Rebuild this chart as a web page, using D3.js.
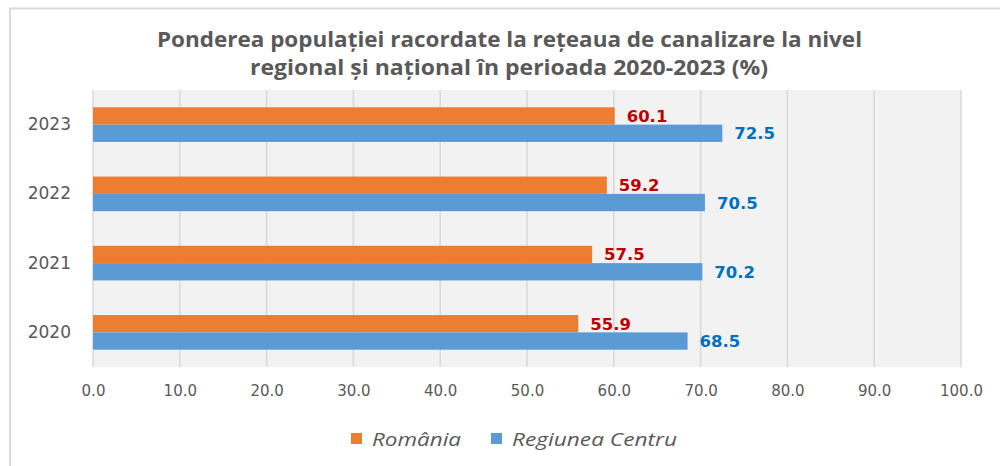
<!DOCTYPE html>
<html>
<head>
<meta charset="utf-8">
<script src="https://cdn.jsdelivr.net/npm/d3@7"></script>
<style>
  body { margin: 0; background: #fff; }
  svg { display: block; }
</style>
</head>
<body>
<div id="chart"></div>
<script>
// Data
const years = ['2023', '2022', '2021', '2020']
const romania = [60.1, 59.2, 57.5, 55.9]
const centru = [72.5, 70.5, 70.2, 68.5]
const xTicks = [0, 10, 20, 30, 40, 50, 60, 70, 80, 90, 100]
const seriesNames = ['România', 'Regiunea Centru']
const titleLines = [
  'Ponderea populației racordate la rețeaua de canalizare la nivel',
  'regional și național în perioada 2020-2023 (%)'
]

const colors = { romania: '#ed7d31', centru: '#5b9bd5' }
const labelColors = { romania: '#c00000', centru: '#0070c0' }

// Dimensions
let dimensions = {
  width: 1000,
  height: 466,
  margin: { top: 90, bottom: 99, left: 93, right: 39 }
}
dimensions.containerWidth = dimensions.width - dimensions.margin.left - dimensions.margin.right
dimensions.containerHeight = dimensions.height - dimensions.margin.top - dimensions.margin.bottom

const svg = d3.select('#chart')
  .append('svg')
  .attr('width', dimensions.width)
  .attr('height', dimensions.height)

// frame
svg.append('path')
  .attr('d', `M10,${dimensions.height} L10,8.5 L${dimensions.width},8.5`)
  .attr('fill', 'none')
  .attr('stroke', '#d9d9d9')
  .attr('stroke-width', 2)

// title
const titleExtents = [[157, 862, 47], [250, 768, 75]]
svg.append('g')
  .selectAll('text')
  .data(titleLines)
  .join('text')
  .attr('x', (d, i) => titleExtents[i][0])
  .attr('y', (d, i) => titleExtents[i][2])
  .attr('textLength', (d, i) => titleExtents[i][1] - titleExtents[i][0])
  .attr('lengthAdjust', 'spacingAndGlyphs')
  .attr('font-family', 'Open Sans, sans-serif')
  .attr('font-weight', 'bold')
  .attr('font-size', 21.5)
  .attr('fill', '#595959')
  .text(d => d)

const container = svg.append('g')
  .attr('transform', `translate(${dimensions.margin.left}, ${dimensions.margin.top})`)

// Scales
const xScale = d3.scaleLinear()
  .domain([0, 100])
  .range([0, dimensions.containerWidth])

const yScale = d3.scaleBand()
  .domain(years)
  .range([0, dimensions.containerHeight])
  .paddingInner(0.5)
  .paddingOuter(0.25)

const bw = yScale.bandwidth() / 2

// plot background
container.append('rect')
  .attr('x', 0)
  .attr('y', 0)
  .attr('width', dimensions.containerWidth)
  .attr('height', dimensions.containerHeight)
  .attr('fill', '#f2f2f2')

// gridlines
container.append('g')
  .selectAll('line')
  .data(xTicks)
  .join('line')
  .attr('x1', d => xScale(d))
  .attr('x2', d => xScale(d))
  .attr('y1', 0)
  .attr('y2', dimensions.containerHeight)
  .attr('stroke', '#d9d9d9')
  .attr('stroke-width', 1.5)

// bars
container.append('g')
  .selectAll('rect')
  .data(years)
  .join('rect')
  .attr('x', 0)
  .attr('y', d => yScale(d))
  .attr('width', (d, i) => xScale(romania[i]))
  .attr('height', bw)
  .attr('fill', colors.romania)

container.append('g')
  .selectAll('rect')
  .data(years)
  .join('rect')
  .attr('x', 0)
  .attr('y', d => yScale(d) + bw)
  .attr('width', (d, i) => xScale(centru[i]))
  .attr('height', bw)
  .attr('fill', colors.centru)

// value labels
const labelStyle = sel => sel
  .attr('font-family', 'DejaVu Sans, Verdana, sans-serif')
  .attr('font-weight', 'bold')
  .attr('font-size', 16.5)

container.append('g')
  .selectAll('text')
  .data(years)
  .join('text')
  .attr('x', (d, i) => xScale(romania[i]) + 12)
  .attr('y', d => yScale(d) + bw / 2 + 6)
  .attr('fill', labelColors.romania)
  .call(labelStyle)
  .text((d, i) => romania[i].toFixed(1))

container.append('g')
  .selectAll('text')
  .data(years)
  .join('text')
  .attr('x', (d, i) => xScale(centru[i]) + 12)
  .attr('y', d => yScale(d) + bw * 1.5 + 6)
  .attr('fill', labelColors.centru)
  .call(labelStyle)
  .text((d, i) => centru[i].toFixed(1))

// Axes
const xAxis = d3.axisBottom(xScale)
  .tickValues(xTicks)
  .tickSize(0)
  .tickPadding(18)
  .tickFormat(d3.format('.1f'))

const xAxisGroup = container.append('g')
  .call(xAxis)
  .attr('transform', `translate(0, ${dimensions.containerHeight})`)
xAxisGroup.select('.domain').remove()
xAxisGroup.selectAll('text')
  .attr('font-family', 'DejaVu Sans, sans-serif')
  .attr('font-size', 15)
  .attr('fill', '#595959')

const yAxis = d3.axisLeft(yScale)
  .tickSize(0)
  .tickPadding(22)

const yAxisGroup = container.append('g')
  .call(yAxis)
yAxisGroup.select('.domain').remove()
yAxisGroup.selectAll('text')
  .attr('font-family', 'DejaVu Sans, sans-serif')
  .attr('font-size', 17)
  .attr('fill', '#595959')

// Legend
const legendItems = [
  { name: seriesNames[0], color: colors.romania, sx: 351, tx: 372, tw: 89 },
  { name: seriesNames[1], color: colors.centru, sx: 491, tx: 512, tw: 165 }
]
const legend = svg.append('g')
legend.selectAll('rect')
  .data(legendItems)
  .join('rect')
  .attr('x', d => d.sx)
  .attr('y', 433)
  .attr('width', 11)
  .attr('height', 11)
  .attr('fill', d => d.color)
legend.selectAll('text')
  .data(legendItems)
  .join('text')
  .attr('x', d => d.tx)
  .attr('y', 445.5)
  .attr('textLength', d => d.tw)
  .attr('lengthAdjust', 'spacingAndGlyphs')
  .attr('font-family', 'Open Sans, sans-serif')
  .attr('font-style', 'italic')
  .attr('font-size', 18)
  .attr('fill', '#595959')
  .text(d => d.name)
</script>
</body>
</html>
